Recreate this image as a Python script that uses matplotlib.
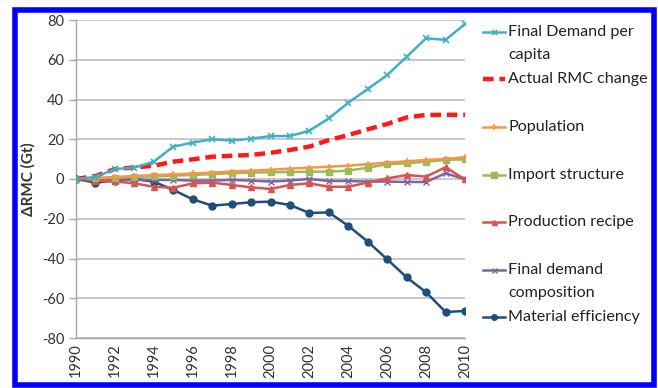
import matplotlib
matplotlib.use("Agg")
import matplotlib.pyplot as plt
from matplotlib.lines import Line2D
from matplotlib.patches import Rectangle

years = list(range(1990, 2011))

final_demand_pc = [0, 1, 5, 5.7, 8.7, 16.3, 18.3, 20, 19.3, 20.3, 21.6, 21.6, 24.3,
                   30.5, 38.4, 45.3, 52.3, 61.5, 70.8, 70, 78]
actual_rmc = [0, 1.5, 5, 5.8, 6.7, 8.7, 9.9, 11.2, 11.7, 12.1, 13.2, 14.6, 16.3,
              19.6, 22.1, 25, 27.7, 31, 32.2, 32.3, 32.3]
population = [0, 0.5, 1, 1.5, 2, 2.3, 2.8, 3.2, 3.7, 4.2, 4.7, 5.2, 5.7,
              6.2, 6.7, 7.5, 8.2, 8.9, 9.6, 10.1, 10.9]
import_structure = [0, 0.3, 0.7, 1.0, 1.3, 1.7, 2.0, 2.5, 2.9, 3.2, 3.4, 3.5, 3.7,
                    3.7, 4.2, 5.7, 7.4, 7.9, 8.7, 9.6, 9.9]
production_recipe = [0, -0.8, -1.2, -2.2, -3.9, -4.4, -2.2, -1.8, -3, -4.2, -5, -3, -2.2,
                     -3.9, -3.9, -1.8, 0.3, 2, 1.2, 5.9, -0.2]
fd_composition = [0, -0.3, -0.3, -0.5, -0.5, -0.5, -0.8, -0.8, -0.5, -0.8, -1.3, -0.8, 0,
                  -1, -1, -1.3, -1.3, -1.5, -1.5, 2.9, -0.2]
material_eff = [0, -1.8, -0.8, 0, -1.3, -5.5, -10.2, -13.4, -12.6, -11.7, -11.4, -13.1, -17.1,
                -16.8, -23.6, -31.5, -40.4, -49.5, -57, -66.9, -66.4]

labels = ["Final Demand per\ncapita", "Actual RMC change", "Population", "Import structure",
          "Production recipe", "Final demand\ncomposition", "Material efficiency"]
yticks = list(range(-80, 81, 20))
xticks = list(range(1990, 2011, 2))

plt.rcParams['font.family'] = ['Lato', 'DejaVu Sans']
plt.rcParams['axes.unicode_minus'] = False

W, H = 658, 388
fig = plt.figure(figsize=(W / 100, H / 100), dpi=100)

def fx(px):
    return px / W

def fy(py):
    return 1 - py / H

ax = fig.add_axes([fx(76), fy(338), fx(465) - fx(76), fy(20) - fy(338)])

styles = [
    dict(color='#3FB0C6', marker='x', ms=4.5, lw=1.8, mew=1.2),
    dict(color='#FF1A1A', marker=None, lw=3.2, ls=(0, (2.4, 1.3))),
    dict(color='#F79646', marker='+', ms=5, lw=1.8, mew=1.2),
    dict(color='#9BBB59', marker='s', ms=5, lw=1.8),
    dict(color='#D9534F', marker='^', ms=4.5, lw=1.8),
    dict(color='#8064A2', marker='x', ms=4.5, lw=1.8, mew=1.0),
    dict(color='#1F4E79', marker='o', ms=5, lw=1.8),
]
series = [final_demand_pc, actual_rmc, population, import_structure,
          production_recipe, fd_composition, material_eff]

order = [6, 5, 4, 3, 2, 1, 0]
for i in order:
    ax.plot(years, series[i], zorder=3 + (7 - i) * 0.1, **styles[i])

ax.set_xlim(1990, 2010)
ax.set_ylim(-80, 80)
ax.set_yticks(yticks)
ax.set_xticks(xticks)
ax.set_xticklabels([str(x) for x in xticks], rotation=90)
ax.grid(axis='y', color='#BFBFBF', lw=1.2)
ax.set_axisbelow(True)
for s in ['top', 'right']:
    ax.spines[s].set_visible(False)
for s in ['left', 'bottom']:
    ax.spines[s].set_color('#A6A6A6')
    ax.spines[s].set_linewidth(1.0)
ax.tick_params(axis='y', colors='#A6A6A6', labelcolor='#333333', labelsize=10.5, length=5, width=1)
ax.tick_params(axis='x', colors='#A6A6A6', labelcolor='#333333', labelsize=10.5, length=0, pad=4)
ax.set_ylabel("ΔRMC (Gt)", fontsize=11, fontweight='bold', color='#333333')
ax.yaxis.set_label_coords(-0.105, 0.5)

# legend (manual layout)
leg_y = [32, 79, 127, 175, 222, 270, 317]
for i, yy in enumerate(leg_y):
    st = dict(styles[i])
    if st.get('marker'):
        st['ms'] = st['ms'] * 0.8
    line = Line2D([fx(483), fx(505)], [fy(yy), fy(yy)], transform=fig.transFigure,
                  **{k: v for k, v in st.items() if k not in ('marker', 'ms', 'mew')})
    fig.add_artist(line)
    if st.get('marker'):
        mk = Line2D([fx(494)], [fy(yy)], transform=fig.transFigure, color=st['color'],
                    marker=st['marker'], ms=st['ms'], mew=st.get('mew', 1.0), lw=0)
        fig.add_artist(mk)
    lines = labels[i].split("\n")
    for j, t in enumerate(lines):
        fig.text(fx(508), fy(yy + j * 23), t, ha='left', va='center', fontsize=11.6, color='#222222')

# blue border
fig.add_artist(Rectangle((fx(14.5), fy(384.5)), fx(654.5) - fx(14.5), fy(9.5) - fy(384.5),
                         transform=fig.transFigure, fill=False, edgecolor='#0000FF', lw=4))

fig.savefig("out.png", dpi=100)
